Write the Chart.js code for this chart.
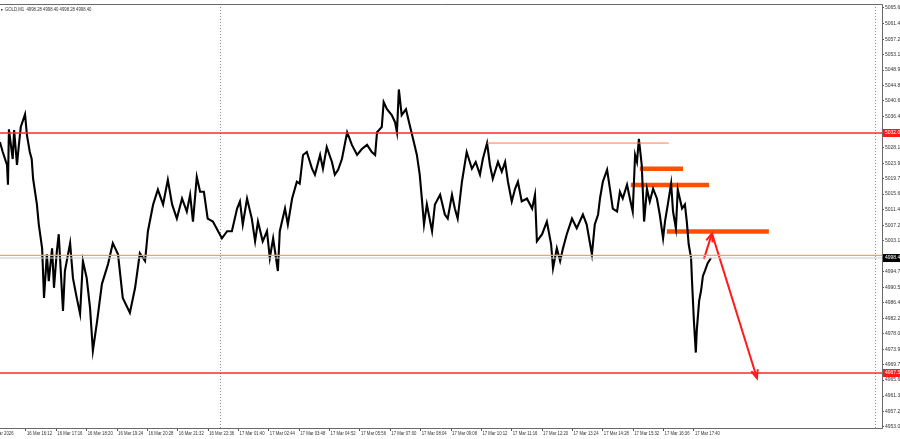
<!DOCTYPE html>
<html>
<head>
<meta charset="utf-8">
<script src="https://cdn.jsdelivr.net/npm/chart.js@4.4.1/dist/chart.umd.min.js"></script>
<style>
  html, body { margin: 0; padding: 0; background: #fff; }
  #wrap { width: 900px; height: 439px; position: relative; }
</style>
</head>
<body>
<div id="wrap"><canvas id="grafico"></canvas></div>
<script>
// eixo X em barras M1 (um rotulo a cada 64 barras)
const xTickLabels = ['16 Mar 2026','16 Mar 16:12','16 Mar 17:16','16 Mar 18:20','16 Mar 19:24','16 Mar 20:28',
  '16 Mar 21:32','16 Mar 22:36','17 Mar 01:40','17 Mar 02:44','17 Mar 03:48','17 Mar 04:52','17 Mar 05:56',
  '17 Mar 07:00','17 Mar 08:04','17 Mar 09:08','17 Mar 10:12','17 Mar 11:16','17 Mar 12:20','17 Mar 13:24',
  '17 Mar 14:28','17 Mar 15:32','17 Mar 16:36','17 Mar 17:40'];
const barsPerLabel = 64;

const yTicks = [5065.60,5061.40,5057.20,5053.10,5048.90,5044.80,5040.60,5036.40,5028.10,5023.90,5019.70,
  5015.60,5011.40,5007.20,5003.10,4994.70,4990.50,4986.40,4982.20,4978.00,4973.90,4969.70,4965.60,
  4961.30,4957.20,4953.00];

// preco (GOLD M1)
const priceBars = [9,15,24,26,28,36,39,45,49,53,62,66,72,76,79,87,91,98,102,108,112,119,123,129,133,142,146,157,163,171,
  178,184,192,199,205,214,224,237,247,258,268,283,294,304,315,321,332,342,353,363,372,382,393,403,410,416,424,431,439,447,
  458,469,477,488,498,509,515,521,530,540,547,553,563,572,578,585,595,599,610,616,625,635,641,
  648,656,667,673,684,690,698,709,715,722,730,741,751,762,772,783,793,800,804,814,818,825,835,842,846,850,856,865,873,880,
  888,894,899,903,909,920,926,937,947,953,962,968,974,983,993,1004,1012,1021,1027,1036,1042,1048,1059,1067,1074,1080,1088,1095,1101,1109,
  1120,1131,1137,1141,1152,1162,1171,1175,1183,1190,1196,1204,1215,1225,1238,1246,1257,1263,1270,1274,
  1280,1289,1295,1301,1310,1316,1322,1331,1337,1343,1348,1352,1356,1362,1367,1373,1379,1386,1394,1400,
  1407,1411,1417,1424,1428,1434,1438,1447,1453,1457,1461,1466,1468,1472,1476,1478,1483,1487,1491,1495,1501,1508];
const priceVals = [5029.6,5026.9,5023.4,5018.1,5033.0,5025.0,5032.8,5023.4,5028.8,5033.6,
  5037.0,5031.4,5026.9,5025.0,5019.7,5012.8,5007.4,5001.0,4987.7,4999.4,
  4992.2,5001.0,4990.4,5000.2,5004.8,4984.2,4994.9,5002.4,4993.0,4987.7,
  4983.4,4997.6,4993.0,4985.0,4973.5,4981.5,4991.4,4996.8,5002.4,4999.4,
  4987.7,4983.7,4990.4,4999.7,4997.6,5005.6,5012.8,5016.8,5012.8,5019.4,
  5012.8,5009.0,5014.4,5010.9,5015.4,5008.2,5020.2,5016.2,5016.2,5009.0,
  5008.2,5005.6,5003.7,5005.6,5005.6,5011.7,5013.6,5007.4,5014.4,5009.0,
  5002.9,5008.2,5002.9,5005.6,4998.4,5003.7,4994.9,5005.6,5011.7,5007.4,
  5014.4,5018.9,5018.4,
  5026.1,5026.9,5022.4,5020.8,5026.1,5022.4,5028.2,5024.2,5020.8,5022.1,
  5025.0,5032.2,5028.8,5026.1,5027.7,5028.8,5026.9,5026.1,5032.2,5033.6,
  5040.3,5038.4,5036.8,5034.9,5032.2,5043.7,5036.8,5038.4,5034.1,5030.4,
  5026.1,5020.8,5013.6,5007.4,5012.8,5005.6,5012.8,5015.4,5010.1,5009.0,
  5015.4,5011.7,5009.0,5018.9,5026.9,5022.4,5024.2,5020.8,5025.0,5029.3,
  5023.4,5019.7,5024.2,5021.6,5024.2,5018.9,5013.6,5017.0,5018.9,5013.6,
  5014.4,5011.7,5015.4,5002.9,5004.8,5008.2,5002.1,4995.7,5001.0,4997.6,
  5001.0,5004.8,5009.0,5006.4,5010.1,5007.4,4999.4,5007.4,5010.1,5014.4,
  5018.9,5022.1,5017.0,5011.7,5010.9,5016.2,5014.4,5018.1,5014.4,5010.9,
  5026.1,5024.2,5030.4,5023.4,5008.2,5017.0,5013.6,5017.0,5014.4,5010.1,
  5003.7,5008.2,5012.8,5018.4,5010.9,5006.4,5016.8,5011.7,5012.8,5008.2,
  5002.1,4998.4,4992.2,4981.5,4973.0,4978.9,4986.9,4989.6,4993.6,4994.9,
  4997.0,4998.4];

// niveis horizontais
const resistencia = 5032.00;
const suporte = 4967.50;
const nivelLaranja = 4999.10;
const bid = 4998.40;
const topoFino = { de: 1036, ate: 1419, preco: 5029.3 };
const faixas = [
  { de: 1358, ate: 1449, preco: 5022.4 },
  { de: 1339, ate: 1504, preco: 5018.0 },
  { de: 1415, ate: 1630, preco: 5005.5 }
];
const setaBars = [1493, 1510, 1605];
const setaPrecos = [4998.1, 5005.0, 4966.1];
const separadores = [473, 1854];
const titulo = 'GOLD,M1  4998.28 4998.40 4998.28 4998.40';

const xMin = 9.2, xMax = 1868.5;
const yMin = 4952.73, yMax = 5066.66;

function linha(x1, x2, p, cor, w) {
  return { type: 'line', data: [{ x: x1, y: p }, { x: x2, y: p }], borderColor: cor, borderWidth: w,
    pointRadius: 0, fill: false };
}

const datasets = [];
datasets.push(linha(xMin, xMax, bid, '#c8c8c8', 1));
datasets.push(linha(xMin, xMax, nivelLaranja, '#ff9a6a', 1.2));
datasets.push(linha(xMin, xMax, resistencia, '#ff2a2a', 1.4));
datasets.push(linha(xMin, xMax, suporte, '#ff2a2a', 1.4));
datasets.push(linha(topoFino.de, topoFino.ate, topoFino.preco, '#ff7a45', 1));
datasets.push({
  type: 'line',
  data: priceBars.map((b, i) => ({ x: b, y: priceVals[i] })),
  borderColor: '#000', borderWidth: 2.1, pointRadius: 0, tension: 0, fill: false
});
faixas.forEach(f => datasets.push(linha(f.de, f.ate, f.preco, '#ff5000', 4.5)));
datasets.push({
  type: 'line',
  data: setaBars.map((b, i) => ({ x: b, y: setaPrecos[i] })),
  borderColor: '#ff1a1a', borderWidth: 2, pointRadius: 0, tension: 0, fill: false
});

// texto estreito, como a fonte do MT4 reduzida
function textoEstreito(ctx, txt, x, y, escala) {
  ctx.save();
  ctx.translate(x, y);
  ctx.scale(escala, 1);
  ctx.fillText(txt, 0, 0);
  ctx.restore();
}

const extras = {
  id: 'extras',
  beforeDatasetsDraw(chart) {
    const { ctx, chartArea: a, scales: { x } } = chart;
    ctx.save();
    ctx.strokeStyle = '#8a8a8a';
    ctx.lineWidth = 1;
    ctx.setLineDash([1, 2]);
    separadores.forEach(b => {
      const px = Math.round(x.getPixelForValue(b)) + 0.5;
      ctx.beginPath(); ctx.moveTo(px, a.top); ctx.lineTo(px, a.bottom); ctx.stroke();
    });
    ctx.restore();
  },
  afterDraw(chart) {
    const { ctx, chartArea: a, scales: { x, y } } = chart;
    ctx.save();
    // moldura
    ctx.strokeStyle = '#6a6a6a';
    ctx.lineWidth = 1;
    ctx.beginPath();
    ctx.moveTo(a.left, a.top + 0.5); ctx.lineTo(a.right + 0.5, a.top + 0.5);
    ctx.lineTo(a.right + 0.5, a.bottom + 0.5); ctx.lineTo(a.left, a.bottom + 0.5);
    ctx.stroke();

    // rotulos do eixo X
    ctx.fillStyle = '#333';
    ctx.font = '5px "Liberation Sans"';
    ctx.textBaseline = 'top';
    xTickLabels.forEach((txt, i) => {
      const px = x.getPixelForValue(i * barsPerLabel);
      textoEstreito(ctx, txt, i === 0 ? px - 6 : px + 1, a.bottom + 3, 0.85);
    });

    // pontas da seta
    const pts = setaBars.map((b, i) => [x.getPixelForValue(b), y.getPixelForValue(setaPrecos[i])]);
    const ponta = (de, para) => {
      const ang = Math.atan2(para[1] - de[1], para[0] - de[0]);
      const L = 9, W = 0.38;
      ctx.beginPath();
      ctx.moveTo(para[0] - L * Math.cos(ang - W), para[1] - L * Math.sin(ang - W));
      ctx.lineTo(para[0], para[1]);
      ctx.lineTo(para[0] - L * Math.cos(ang + W), para[1] - L * Math.sin(ang + W));
      ctx.stroke();
    };
    ctx.strokeStyle = '#ff1a1a';
    ctx.lineWidth = 2;
    ponta(pts[0], pts[1]);
    ponta(pts[1], pts[2]);

    // etiquetas de preco no eixo
    ctx.font = '5px "Liberation Sans"';
    ctx.textBaseline = 'middle';
    [[resistencia, '#ff1a1a', '5032.00'], [bid, '#000', bid.toFixed(2)], [suporte, '#ff1a1a', suporte.toFixed(2)]]
      .forEach(([p, bg, txt]) => {
        const py = y.getPixelForValue(p);
        ctx.fillStyle = bg;
        ctx.fillRect(a.right + 1, py - 4, 20, 8);
        ctx.fillStyle = '#fff';
        ctx.fillText(txt, a.right + 3, py);
      });

    // titulo
    ctx.fillStyle = '#333';
    textoEstreito(ctx, titulo, a.left + 5, a.top + 6, 0.85);
    ctx.fillRect(a.left + 1, a.top + 5, 1.5, 1.5);
    ctx.restore();
  }
};

new Chart(document.getElementById('grafico'), {
  type: 'line',
  data: { datasets },
  options: {
    responsive: true,
    maintainAspectRatio: false,
    animation: false,
    devicePixelRatio: 1,
    layout: { padding: { top: 1, left: 0, right: 0, bottom: 0 } },
    plugins: { legend: { display: false }, tooltip: { enabled: false } },
    scales: {
      x: {
        type: 'linear', min: xMin, max: xMax,
        afterBuildTicks: s => { s.ticks = xTickLabels.slice(1).map((_, i) => ({ value: (i + 1) * barsPerLabel })); },
        afterFit: s => { s.height = 11; s.paddingLeft = 0; s.paddingRight = 0; },
        grid: { drawOnChartArea: false, drawTicks: true, tickLength: 3, color: '#555' },
        border: { display: false },
        ticks: { display: false, autoSkip: false, maxRotation: 0 }
      },
      y: {
        position: 'right', min: yMin, max: yMax,
        afterBuildTicks: s => { s.ticks = yTicks.map(v => ({ value: v })); },
        afterFit: s => { s.width = 18; },
        grid: { drawOnChartArea: false, drawTicks: true, tickLength: 2, color: '#555' },
        border: { display: false },
        ticks: {
          autoSkip: false, padding: 1, color: '#333',
          font: { size: 5, family: 'Liberation Sans' },
          callback: v => v.toFixed(2)
        }
      }
    }
  },
  plugins: [extras]
});
</script>
</body>
</html>
